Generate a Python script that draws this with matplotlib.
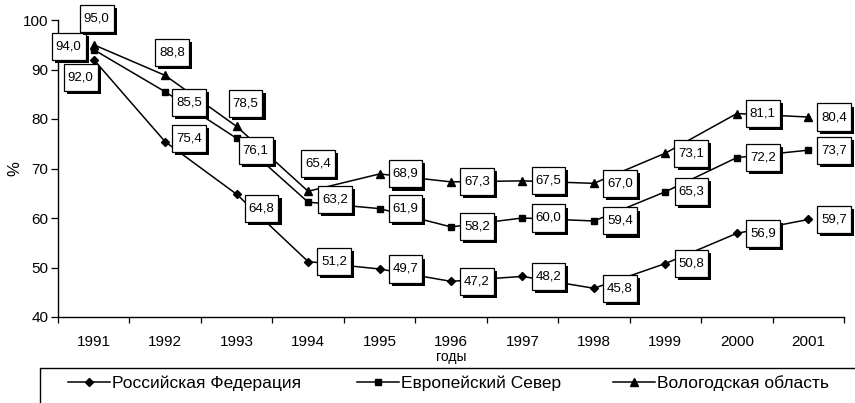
import matplotlib
matplotlib.use("Agg")
import matplotlib.pyplot as plt
import matplotlib.patheffects as pe
from matplotlib.patches import Rectangle
import numpy as np

plt.rcParams['font.family'] = ['Liberation Sans', 'DejaVu Sans']

# data
years = ["1991", "1992", "1993", "1994", "1995", "1996",
         "1997", "1998", "1999", "2000", "2001"]
rf = [92.0, 75.4, 64.8, 51.2, 49.7, 47.2, 48.2, 45.8, 50.8, 56.9, 59.7]
north = [94.0, 85.5, 76.1, 63.2, 61.9, 58.2, 60.0, 59.4, 65.3, 72.2, 73.7]
vologda = [95.0, 88.8, 78.5, 65.4, 68.9, 67.3, 67.5, 67.0, 73.1, 81.1, 80.4]
names = ["Российская Федерация", "Европейский Север", "Вологодская область"]

# label placement (pixels from the point), default right of the point
default_off = (26, 0)
label_off = {
    (0, 0): (-13, -18), (0, 1): (24, 3), (0, 2): (25, -14),
    (1, 0): (-25, 3), (1, 1): (24, -11), (1, 2): (19, -12), (1, 3): (27, 3),
    (2, 0): (3, 26), (2, 1): (7, 23), (2, 2): (9, 23), (2, 3): (10, 28),
}

fig = plt.figure(figsize=(8.55, 4.03), dpi=100)
ax = fig.add_axes([58 / 855, 1 - 317 / 403, (844 - 58) / 855, (317 - 20) / 403])

x = np.arange(len(years))
series = [rf, north, vologda]
markers = ["D", "s", "^"]
msizes = [4.5, 5, 6]
handles = []
for s, (vals, m, ms) in enumerate(zip(series, markers, msizes)):
    h, = ax.plot(x, vals, color="black", lw=1.1, marker=m, ms=ms,
                 mfc="black", mec="black", zorder=2, label=names[s])
    handles.append(h)
    for i, v in enumerate(vals):
        dx, dy = label_off.get((s, i), default_off)
        t = ax.annotate(f"{v:.1f}".replace(".", ","), (x[i], v),
                        xytext=(dx, dy), textcoords="offset pixels",
                        ha="center", va="center", fontsize=9.5, zorder=5,
                        bbox=dict(boxstyle="square,pad=0.3", fc="white",
                                  ec="black", lw=0.9, mutation_aspect=1.9))
        t.get_bbox_patch().set_path_effects(
            [pe.SimplePatchShadow(offset=(2.2, -2.2), shadow_rgbFace="black", alpha=1),
             pe.Normal()])

ax.set_xlim(-0.5, len(years) - 0.5)
ax.set_ylim(40, 100)
ax.set_yticks(range(40, 101, 10))
ax.set_xticks(x)
ax.set_xticklabels(years)
ax.set_xticks(np.arange(-0.5, len(years), 1.0), minor=True)
ax.tick_params(axis="x", which="major", length=0, pad=13, labelsize=11)
ax.tick_params(axis="x", which="minor", length=4, direction="out", width=0.9)
ax.tick_params(axis="y", length=5, direction="out", pad=2, labelsize=11, width=0.9)
for side in ["top", "right"]:
    ax.spines[side].set_visible(False)
for side in ["left", "bottom"]:
    ax.spines[side].set_linewidth(1.0)

ax.set_ylabel("%", fontsize=12)
ax.yaxis.set_label_coords(-0.045, 0.5)
ax.set_xlabel("годы", fontsize=10, labelpad=1)

# legend: one entry per slot, frame drawn separately
leg_x = [68, 357, 613]
for h, lx in zip(handles, leg_x):
    fig.legend(handles=[h], loc="center left", bbox_to_anchor=(lx / 855, 1 - 383 / 403),
               frameon=False, fontsize=12.5, handlelength=2.4, handletextpad=0.12,
               borderpad=0, borderaxespad=0)
fig.patches.append(Rectangle((40 / 855, -0.1), 1.0, 0.1 + (403 - 368) / 403,
                             transform=fig.transFigure, fill=False,
                             ec="black", lw=1.0))

fig.savefig("out.png", dpi=100)
